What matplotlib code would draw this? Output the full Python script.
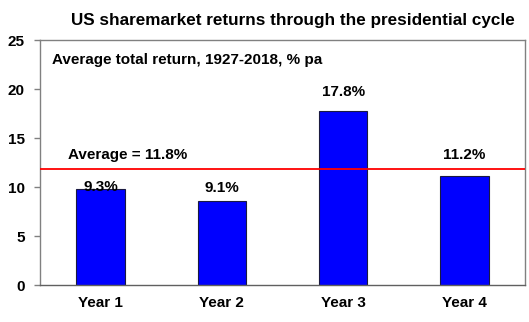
import matplotlib
matplotlib.use("Agg")
import matplotlib.pyplot as plt

categories = ["Year 1", "Year 2", "Year 3", "Year 4"]
bar_values = [9.8, 8.6, 17.8, 11.2]
bar_labels = ["9.3%", "9.1%", "17.8%", "11.2%"]
average = 11.85
average_label = "Average = 11.8%"
title = "US sharemarket returns through the presidential cycle"
subtitle = "Average total return, 1927-2018, % pa"
yticks = [0, 5, 10, 15, 20, 25]

# label offsets above bar tops (pixels), styling only
label_offsets_px = [2, 13, 19, 21]

plt.rcParams['font.family'] = ['Liberation Sans', 'DejaVu Sans']
plt.rcParams['font.weight'] = 'bold'

fig = plt.figure(figsize=(5.29, 3.22), dpi=100)
ax = fig.add_axes([0.0756, 0.114, 0.9168, 0.761])

x = list(range(len(categories)))
ax.bar(x, bar_values, width=0.4, color='#0000FF', edgecolor='#1a1a40', linewidth=0.8, zorder=2)
for xi, v, lab, off in zip(x, bar_values, bar_labels, label_offsets_px):
    ax.annotate(lab, xy=(xi, v), xytext=(0, off), textcoords='offset pixels',
                ha='center', va='center', fontsize=11, fontweight='bold', zorder=4)

ax.axhline(average, color='#FF0000', linewidth=1.3, zorder=3)
ax.annotate(average_label, xy=(-0.27, average), xytext=(0, 14), textcoords='offset pixels',
            ha='left', va='center', fontsize=11, fontweight='bold')
ax.text(-0.405, 23.0, subtitle, ha='left', va='center', fontsize=11, fontweight='bold')

ax.set_xlim(-0.5, 3.5)
ax.set_ylim(0, 25)
ax.set_yticks(yticks)
ax.set_xticks(x)
ax.set_xticklabels(categories, fontsize=11, fontweight='bold')
ax.tick_params(axis='y', labelsize=11, direction='out', length=4, color='#808080', width=1, pad=7)
ax.tick_params(axis='x', length=0, pad=8)
for s in ax.spines.values():
    s.set_color('#808080')
    s.set_linewidth(1.0)
ax.spines['bottom'].set_color('#606060')

fig.suptitle(title, x=0.554, y=0.937, fontsize=12.3, fontweight='bold', va='center')

fig.savefig("out.png", dpi=100)
